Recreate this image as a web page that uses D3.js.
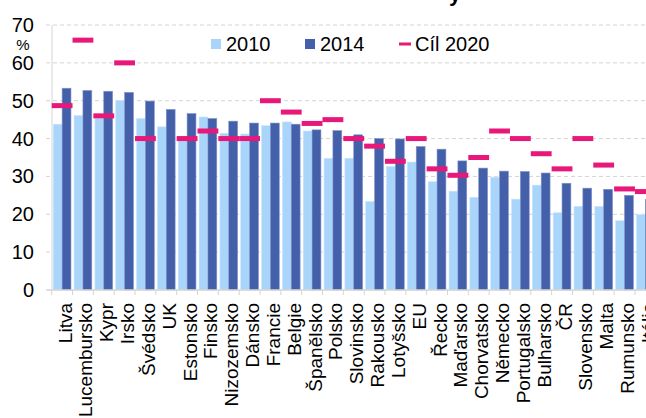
<!DOCTYPE html>
<html>
<head>
<meta charset="utf-8">
<script src="https://cdn.jsdelivr.net/npm/d3@7"></script>
<style>
  html, body { margin: 0; padding: 0; background: #fff; overflow: hidden; }
  svg { display: block; font-family: "Liberation Sans", Arial, sans-serif; }
</style>
</head>
<body>
<svg id="chart" width="646" height="418"></svg>
<script>
// data
const countries = ["Litva", "Lucembursko", "Kypr", "Irsko", "Švédsko", "UK", "Estonsko", "Finsko",
  "Nizozemsko", "Dánsko", "Francie", "Belgie", "Španělsko", "Polsko", "Slovinsko", "Rakousko",
  "Lotyšsko", "EU", "Řecko", "Maďarsko", "Chorvatsko", "Německo", "Portugalsko", "Bulharsko",
  "ČR", "Slovensko", "Malta", "Rumunsko", "Itálie"];
const values2010 = [43.8, 46.1, 45.3, 50.1, 45.3, 43.1, 40.0, 45.7, 41.4, 41.2, 43.4, 44.4, 42.0, 34.8,
  34.8, 23.4, 32.6, 33.8, 28.6, 26.1, 24.5, 29.8, 24.0, 27.7, 20.4, 22.1, 22.1, 18.3, 19.9];
const values2014 = [53.3, 52.7, 52.5, 52.2, 49.9, 47.7, 46.6, 45.3, 44.6, 44.1, 44.1, 43.8, 42.3, 42.1,
  41.0, 40.0, 39.9, 37.9, 37.2, 34.1, 32.2, 31.4, 31.3, 30.9, 28.2, 26.9, 26.6, 25.0, 23.9];
const target2020 = [48.7, 66, 46, 60, 40, null, 40, 42, 40, 40, 50, 47, 44, 45, 40, 38, 34, 40, 32,
  30.3, 35, 42, 40, 36, 32, 40, 33, 26.7, 26];
const yTicks = [0, 10, 20, 30, 40, 50, 60, 70];
const legendItems = ["2010", "2014", "Cíl 2020"];

const c2010 = "#a9d5fb", c2014 = "#4460ab", cTarget = "#e8177a";

const svg = d3.select("#chart");

const y = d3.scaleLinear().domain([0, 70]).range([290, 25]);
const x = d3.scaleBand().domain(countries).range([51.7, 51.7 + countries.length * 20.83]);
const bw = x.bandwidth();

// title (cut off at top)
svg.append("text")
  .attr("x", 449).attr("y", 0.5)
  .attr("font-size", 22).attr("font-weight", "bold")
  .text("y");

// grid
svg.append("g").selectAll("line")
  .data(yTicks.filter(d => d > 0))
  .join("line")
  .attr("x1", 46).attr("x2", 646)
  .attr("y1", d => y(d)).attr("y2", d => y(d))
  .attr("stroke", "#d4d4d4").attr("stroke-dasharray", "4,3");

// bars
const groups = svg.append("g").selectAll("g")
  .data(countries)
  .join("g")
  .attr("transform", d => `translate(${x(d)},0)`);

groups.append("rect")
  .attr("x", bw * 0.075).attr("width", bw * 0.425)
  .attr("y", (d, i) => y(values2010[i]))
  .attr("height", (d, i) => y(0) - y(values2010[i]))
  .attr("fill", c2010).attr("stroke", "#c9e4fc").attr("stroke-width", 0.6);

groups.append("rect")
  .attr("x", bw * 0.5).attr("width", bw * 0.425)
  .attr("y", (d, i) => y(values2014[i]))
  .attr("height", (d, i) => y(0) - y(values2014[i]))
  .attr("fill", c2014).attr("stroke", "#8193c8").attr("stroke-width", 0.6);

// axes
svg.append("line")
  .attr("x1", 52).attr("x2", 52).attr("y1", y(70)).attr("y2", y(0))
  .attr("stroke", "#d4d4d4");
svg.append("line")
  .attr("x1", 46).attr("x2", 646).attr("y1", y(0)).attr("y2", y(0))
  .attr("stroke", "#d4d4d4").attr("stroke-width", 1.5);

svg.append("g").selectAll("line")
  .data(d3.range(countries.length + 1))
  .join("line")
  .attr("x1", i => 51.7 + i * bw).attr("x2", i => 51.7 + i * bw)
  .attr("y1", y(0)).attr("y2", y(0) + 5)
  .attr("stroke", "#d4d4d4");

// targets
svg.append("g").selectAll("rect")
  .data(countries.filter((d, i) => target2020[i] != null))
  .join("rect")
  .attr("x", d => x(d))
  .attr("width", bw)
  .attr("y", d => y(target2020[countries.indexOf(d)]) - 2.5)
  .attr("height", 5)
  .attr("fill", cTarget);

// y tick labels
svg.append("g").selectAll("text")
  .data(yTicks)
  .join("text")
  .attr("x", 34).attr("y", d => y(d))
  .attr("dy", "0.35em")
  .attr("text-anchor", "end")
  .attr("font-size", 20)
  .attr("fill", "#000")
  .text(d => d);

svg.append("text")
  .attr("x", 23).attr("y", 45).attr("dy", "0.35em")
  .attr("text-anchor", "middle").attr("font-size", 15)
  .text("%");

// category labels
svg.append("g").selectAll("text")
  .data(countries)
  .join("text")
  .attr("transform", d => `translate(${x(d) + bw / 2},303) rotate(-90)`)
  .attr("dy", "0.5em")
  .attr("text-anchor", "end")
  .attr("font-size", 19)
  .text(d => d);

// legend
const legend = svg.append("g");
legend.append("rect").attr("x", 211).attr("y", 39).attr("width", 10).attr("height", 10).attr("fill", c2010);
legend.append("text").attr("x", 226).attr("y", 51).attr("font-size", 20).text(legendItems[0]);
legend.append("rect").attr("x", 305).attr("y", 39).attr("width", 10).attr("height", 10).attr("fill", c2014);
legend.append("text").attr("x", 320).attr("y", 51).attr("font-size", 20).text(legendItems[1]);
legend.append("rect").attr("x", 399).attr("y", 42.5).attr("width", 12).attr("height", 3).attr("fill", cTarget);
legend.append("text").attr("x", 415).attr("y", 51).attr("font-size", 20).text(legendItems[2]);
</script>
</body>
</html>
